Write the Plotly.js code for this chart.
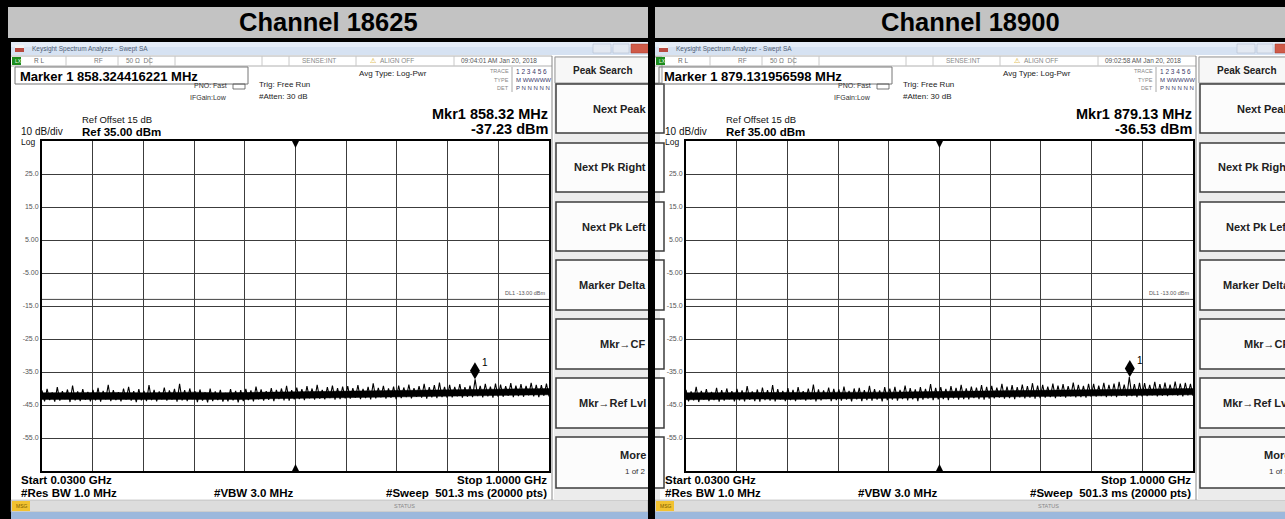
<!DOCTYPE html>
<html>
<head>
<meta charset="utf-8">
<script src="https://cdn.plot.ly/plotly-3.0.1.min.js"></script>
<style>html,body{margin:0;padding:0;background:#000;}#chart{width:1285px;height:519px;}</style>
</head>
<body>
<div id="chart"></div>
<script>
// ---------------- data ----------------
const channels = ["Channel 18625", "Channel 18900"];
const startMHz = 30;      // Start 0.0300 GHz
const stopMHz = 1000;     // Stop 1.0000 GHz
const refLevel = 35;      // Ref 35.00 dBm
const dbPerDiv = 10;
const displayLine = -13;  // DL1 -13.00 dBm
const yTickVals = [25, 15, 5, -5, -15, -25, -35, -45, -55];
const yTickText = ["25.0", "15.0", "5.00", "-5.00", "-15.0", "-25.0", "-35.0", "-45.0", "-55.0"];
const markerFreqs = [858.324416221, 879.131956598];
const markerLevels = [-37.23, -36.53];
const markerFreqText = ["858.324416221", "879.131956598"];
const mkrShort = ["858.32", "879.13"];
const timeStamps = ["09:04:01 AM Jan 20, 2018", "09:02:58 AM Jan 20, 2018"];
const softkeys = ["Next Peak", "Next Pk Right", "Next Pk Left", "Marker Delta", "Mkr\u2192CF", "Mkr\u2192Ref Lvl"];

// trace levels (dBm), swept from start to stop
const trace18625 = [
 -40.6,-43.9,-40.1,-43.5,-41.2,-44.0,-39.6,-43.7,-40.8,-43.2,-40.3,-44.1,-39.1,-43.6,-40.9,-43.8,-40.2,-43.4,-41.0,-43.9,
 -40.4,-43.6,-39.8,-44.0,-40.7,-43.3,-38.9,-43.8,-40.5,-43.5,-41.1,-43.9,-40.0,-43.4,-39.5,-43.7,-40.8,-44.1,-40.2,-43.6,
 -40.7,-43.8,-39.0,-43.5,-40.4,-43.9,-40.9,-43.3,-39.7,-43.7,-40.6,-43.4,-40.1,-44.0,-38.6,-43.6,-40.5,-43.8,-40.0,-43.2,
 -40.8,-44.1,-40.3,-43.7,-41.2,-44.2,-40.0,-43.8,-40.9,-43.5,-40.4,-44.0,-41.3,-43.9,-40.2,-43.6,-40.7,-44.2,-40.5,-43.8,
 -40.1,-43.5,-40.6,-43.9,-39.4,-43.3,-40.3,-43.7,-40.8,-43.4,-39.9,-43.8,-40.4,-43.2,-40.0,-43.6,-39.2,-43.7,-40.5,-43.3,
 -39.7,-43.2,-40.2,-43.5,-39.3,-43.0,-40.0,-43.4,-38.9,-43.1,-40.4,-43.3,-39.6,-42.9,-39.1,-43.4,-39.9,-43.2,-39.4,-43.0,
 -39.3,-43.1,-39.9,-42.8,-39.0,-43.2,-40.1,-42.9,-39.5,-43.3,-38.4,-43.0,-39.8,-42.7,-39.2,-43.1,-40.0,-42.8,-39.4,-43.2,
 -39.1,-42.9,-39.7,-42.6,-38.8,-43.0,-39.9,-42.5,-39.3,-42.8,-38.6,-43.1,-39.6,-42.7,-39.0,-42.9,-38.2,-42.6,-39.5,-42.8,
 -38.9,-42.7,-39.5,-42.4,-38.7,-42.8,-39.6,-42.5,-39.1,-42.6,-37.23,-42.3,-39.2,-42.7,-38.6,-42.4,-39.4,-42.8,-38.5,-42.5,
 -38.8,-42.5,-39.3,-42.2,-38.4,-42.6,-39.1,-42.3,-38.7,-42.5,-39.2,-42.1,-38.3,-42.4,-38.9,-42.6,-39.0,-42.2,-38.5,-42.4
];
const trace18900 = [
 -40.4,-43.9,-40.9,-43.6,-39.5,-44.1,-40.7,-43.4,-40.2,-43.8,-41.0,-43.5,-39.8,-44.0,-40.5,-43.7,-40.0,-43.3,-40.8,-43.9,
 -40.1,-43.6,-40.6,-43.9,-39.3,-43.4,-40.9,-43.8,-40.3,-44.0,-39.7,-43.5,-40.5,-43.7,-39.0,-43.9,-40.2,-43.4,-40.7,-43.8,
 -39.9,-43.5,-40.4,-43.8,-39.6,-43.3,-40.8,-43.7,-40.0,-43.4,-38.8,-43.9,-40.3,-43.6,-40.6,-43.2,-39.7,-43.8,-40.1,-43.5,
 -40.3,-43.7,-39.4,-43.4,-40.7,-43.9,-40.0,-43.3,-39.8,-43.8,-40.5,-43.5,-39.2,-43.7,-40.2,-43.4,-40.6,-43.9,-39.6,-43.5,
 -40.0,-43.4,-39.5,-43.7,-40.4,-43.2,-39.1,-43.6,-39.9,-43.3,-40.3,-43.8,-39.6,-43.4,-40.1,-43.1,-38.7,-43.5,-39.8,-43.3,
 -39.6,-43.2,-40.1,-43.5,-39.3,-43.0,-39.8,-43.4,-38.9,-43.2,-40.0,-43.3,-39.4,-42.9,-39.7,-43.2,-39.0,-43.4,-39.5,-43.1,
 -39.2,-43.0,-39.7,-42.8,-38.6,-43.1,-39.4,-42.9,-39.0,-43.2,-39.6,-42.7,-38.8,-43.0,-39.3,-42.8,-38.4,-43.1,-39.1,-42.9,
 -38.9,-42.8,-39.4,-42.6,-38.5,-42.9,-39.1,-42.5,-38.7,-42.8,-39.3,-42.4,-38.2,-42.7,-38.9,-42.6,-39.2,-42.8,-38.6,-42.5,
 -38.6,-42.5,-39.1,-42.3,-38.3,-42.6,-38.9,-42.4,-38.5,-42.6,-38.0,-42.2,-38.8,-42.5,-36.53,-42.3,-38.7,-42.6,-38.3,-42.4,
 -38.4,-42.3,-38.9,-42.1,-38.0,-42.4,-38.7,-42.2,-38.2,-42.3,-38.8,-42.0,-37.9,-42.2,-38.5,-42.4,-38.3,-42.1,-38.6,-42.2
];
// dense (solid) core of the noise band, read every half division (dBm)
const coreHigh18625 = [-41.3,-41.2,-41.3,-41.2,-41.3,-41.2,-41.1,-41.3,-41.2,-41.0,-41.0,-40.8,-40.7,-40.6,-40.5,-40.4,-40.3,-40.3,-40.2,-40.1,-40.0];
const coreLow18625  = [-43.3,-43.3,-43.2,-43.3,-43.2,-43.3,-43.3,-43.4,-43.3,-43.1,-43.0,-42.9,-42.7,-42.6,-42.5,-42.3,-42.2,-42.1,-42.0,-42.0,-41.9];
const coreHigh18900 = [-41.3,-41.3,-41.2,-41.3,-41.2,-41.2,-41.1,-41.2,-41.1,-41.0,-40.9,-40.8,-40.7,-40.6,-40.5,-40.4,-40.3,-40.2,-40.1,-40.0,-40.0];
const coreLow18900  = [-43.4,-43.3,-43.3,-43.2,-43.3,-43.2,-43.2,-43.1,-43.1,-43.0,-42.9,-42.8,-42.7,-42.6,-42.4,-42.3,-42.2,-42.1,-42.0,-41.9,-41.9];
const traces = [trace18625, trace18900];
const coreHighs = [coreHigh18625, coreHigh18900];
const coreLows = [coreLow18625, coreLow18900];

// ---------------- layout helpers ----------------
const W = 1285, H = 519;
const FONT = "Liberation Sans, Arial, sans-serif";
const X = p => p / W;
const Y = p => 1 - p / H;
const shapes = [];
const annotations = [];

function rect(x0, y0, x1, y1, fill, line, lw, layer) {
  shapes.push({type: "rect", xref: "paper", yref: "paper", x0: X(x0), x1: X(x1), y0: Y(y1), y1: Y(y0),
    fillcolor: fill, line: {color: line || fill, width: lw === undefined ? 0 : lw}, layer: layer || "above"});
}
function hline(x0, x1, y, color, w) {
  shapes.push({type: "line", xref: "paper", yref: "paper", x0: X(x0), x1: X(x1), y0: Y(y), y1: Y(y),
    line: {color: color, width: w || 1}, layer: "above"});
}
function vline(x, y0, y1, color, w) {
  shapes.push({type: "line", xref: "paper", yref: "paper", x0: X(x), x1: X(x), y0: Y(y0), y1: Y(y1),
    line: {color: color, width: w || 1}, layer: "above"});
}
function txt(text, x, y, size, opt) {
  opt = opt || {};
  annotations.push({text: opt.bold ? "<b>" + text + "</b>" : text, xref: "paper", yref: "paper",
    x: X(x), y: Y(y), xanchor: opt.anchor || "left", yanchor: "middle", showarrow: false,
    font: {family: FONT, size: size, color: opt.color || "#000"}});
}

const panelOffsets = [0, 644];
const panelRight = [648, 1300];

panelOffsets.forEach((dx, i) => {
  const L = 11 + dx, R = panelRight[i];
  // header
  rect(8 + dx - (i ? 2 : 0), 7, i ? 1290 : 648, 38, "#c3c3c3");
  txt(channels[i], (i ? 970 : 328), 22.5, 25.5, {bold: true, anchor: "center"});
  // screenshot background
  rect(L, 42, R, 519, "#ffffff", null, 0, "below");
  // window title bar
  rect(L, 42, R, 55, "#d6e2f2");
  rect(L, 42, R, 47, "#e4ecf7");
  rect(15 + dx, 45, 24 + dx, 52, "#b84a40");
  rect(15 + dx, 45, 24 + dx, 48, "#f3f3f3");
  txt("Keysight Spectrum Analyzer - Swept SA", 30 + dx, 49, 6.5, {color: "#4e5c72"});
  rect(593 + dx, 44, 611 + dx, 53, "#e3e9f2", "#a9b6c9", 0.5);
  rect(613 + dx, 44, 629 + dx, 53, "#e3e9f2", "#a9b6c9", 0.5);
  rect(631 + dx, 44, 652 + dx, 53, "#cf5a48", "#a03a2a", 0.5);
  // status row
  hline(L, 552 + dx, 56, "#b0b0b0", 1);
  hline(L, 552 + dx, 66, "#b0b0b0", 1);
  rect(12 + dx, 57, 21 + dx, 65, "#1c8c1c");
  txt("LXI", 13 + dx, 61, 5, {color: "#e8ffe8"});
  txt("R L", 32 + dx, 61, 6.5, {color: "#666"});
  txt("RF", 92 + dx, 61, 6.5, {color: "#777"});
  txt("50 \u03a9  DC", 124 + dx, 61, 6.5, {color: "#777"});
  txt("SENSE:INT", 300 + dx, 61, 6.5, {color: "#888"});
  txt("\u26a0", 368 + dx, 61, 7, {color: "#d4a000"});
  txt("ALIGN OFF", 378 + dx, 61, 6.5, {color: "#888"});
  txt(timeStamps[i], 459 + dx, 61, 6.5, {color: "#555"});
  [66, 118, 150, 175, 262, 289, 356, 454].forEach(v => vline(v + dx, 56, 66, "#c8c8c8", 1));
  vline(552 + dx, 56, 500, "#888", 1);
  // marker readout box
  rect(15 + dx, 67, 248 + dx, 84, "rgba(0,0,0,0)", "#777", 1);
  txt("Marker 1 " + markerFreqText[i] + " MHz", 18 + dx, 76, 13, {bold: true});
  txt("PNO: Fast", 229 + dx, 86, 7, {anchor: "right", color: "#333"});
  txt("IFGain:Low", 229 + dx, 97, 7, {anchor: "right", color: "#333"});
  rect(233 + dx, 84, 245 + dx, 89, "rgba(0,0,0,0)", "#555", 0.8);
  txt("Trig: Free Run", 257 + dx, 85, 8, {color: "#222"});
  txt("#Atten: 30 dB", 257 + dx, 96, 8, {color: "#222"});
  txt("Avg Type: Log-Pwr", 357 + dx, 74, 8, {color: "#222"});
  txt("TRACE", 511 + dx, 71, 5.5, {anchor: "right", color: "#888"});
  txt("TYPE", 511 + dx, 80, 5.5, {anchor: "right", color: "#888"});
  txt("DET", 511 + dx, 88, 5.5, {anchor: "right", color: "#888"});
  txt("1 2 3 4 5 6", 514 + dx, 72, 6.5, {color: "#3a3a6a"});
  txt("M WWWWW", 514 + dx, 80, 6, {color: "#3a3a6a"});
  txt("P N N N N N", 514 + dx, 88, 6, {color: "#3a3a6a"});
  vline(512 + dx, 67, 92, "#aaa", 1);
  // reference info
  txt("Mkr1 " + mkrShort[i] + " MHz", 550 + dx, 114, 14.5, {bold: true, anchor: "right"});
  txt(markerLevels[i].toFixed(2) + " dBm", 550 + dx, 129, 14.5, {bold: true, anchor: "right"});
  txt("Ref Offset 15 dB", 80 + dx, 119.5, 9.5, {color: "#111"});
  txt("10 dB/div", 19 + dx, 131, 10, {color: "#111"});
  txt("Ref " + refLevel.toFixed(2) + " dBm", 80 + dx, 132, 11.5, {bold: true});
  txt("Log", 19 + dx, 142, 8.5, {color: "#111"});
  // bottom readouts
  txt("Start " + (startMHz / 1000).toFixed(4) + " GHz", 19 + dx, 480, 11.5, {bold: true});
  txt("Stop " + (stopMHz / 1000).toFixed(4) + " GHz", 549 + dx, 480, 11.5, {bold: true, anchor: "right"});
  txt("#Res BW 1.0 MHz", 19 + dx, 493, 11.5, {bold: true});
  txt("#VBW 3.0 MHz", 212 + dx, 493, 11.5, {bold: true});
  txt("#Sweep&nbsp;&nbsp;501.3 ms (20000 pts)", 549 + dx, 493, 11.5, {bold: true, anchor: "right"});
  // status bar and window frame bottom
  rect(L, 500, R, 512, "#dcdcdc", "#a0a0a0", 0.5);
  rect(12 + dx, 501, 30 + dx, 511, "#f2c230");
  txt("MSG", 14 + dx, 506, 5, {color: "#7a5a00"});
  txt("STATUS", 404 + dx, 506, 5.5, {color: "#888", anchor: "center"});
  rect(L, 512, R, 519, "#9cb8dc");
  // softkey column
  rect(554 + dx, 56, 660 + dx, 500, "#ececec");
  rect(555 + dx, 57, 662 + dx, 83, "#f7f7f7", "#999", 1);
  txt("Peak Search", 603 + dx, 70, 10, {bold: true, anchor: "center", color: "#222"});
  const keyTops = [84, 143, 202, 260, 319, 378, 437];
  const keyBots = [133, 192, 251, 310, 369, 428, 488];
  keyTops.forEach((t, k) => rect(556 + dx, t, 664 + dx, keyBots[k], "#fcfcfc", "#3c3c3c", 1.5));
  softkeys.forEach((s, k) => txt(s, 648 + dx, (keyTops[k] + keyBots[k]) / 2, 11, {bold: true, anchor: "right", color: "#222"}));
  txt("More", 648 + dx, 455, 11, {bold: true, anchor: "right", color: "#222"});
  txt("1 of 2", 648 + dx, 471, 8, {anchor: "right", color: "#333"});
});
// black gap between the two panels (drawn last)
rect(648, 0, 655, 519, "#000000");

// ---------------- traces ----------------
const data = [];
const layout = {
  width: W, height: H, margin: {l: 0, r: 0, t: 0, b: 0},
  paper_bgcolor: "#000000", plot_bgcolor: "#ffffff", showlegend: false,
  font: {family: FONT}, shapes: shapes, annotations: annotations
};
const plotLeft = [42, 686];
const sweep = (n) => Array.from({length: n}, (_, k) => startMHz + (stopMHz - startMHz) * k / (n - 1));
traces.forEach((vals, i) => {
  const xa = i === 0 ? "x" : "x2", ya = i === 0 ? "y" : "y2";
  const coreX = sweep(coreLows[i].length);
  data.push({type: "scatter", mode: "lines", x: coreX, y: coreLows[i], xaxis: xa, yaxis: ya,
    line: {color: "#000", width: 0.5}, hoverinfo: "skip"});
  data.push({type: "scatter", mode: "lines", x: coreX, y: coreHighs[i], xaxis: xa, yaxis: ya,
    line: {color: "#000", width: 0.5}, fill: "tonexty", fillcolor: "#000", hoverinfo: "skip"});
  data.push({type: "scatter", mode: "lines", x: sweep(vals.length), y: vals, xaxis: xa, yaxis: ya,
    line: {color: "#000000", width: 1.1}, hoverinfo: "skip"});
  const axSuffix = i === 0 ? "" : "2";
  layout["xaxis" + axSuffix] = {
    domain: [X(plotLeft[i]), X(plotLeft[i] + 507)], range: [startMHz, stopMHz],
    tick0: startMHz, dtick: (stopMHz - startMHz) / 10, showgrid: true, gridcolor: "#3c3c3c", gridwidth: 1,
    showticklabels: false, ticks: "", zeroline: false, showline: true, mirror: true,
    linecolor: "#000", linewidth: 2, anchor: ya, fixedrange: true
  };
  layout["yaxis" + axSuffix] = {
    domain: [Y(471), Y(141)], range: [refLevel - 10 * dbPerDiv, refLevel],
    tickvals: yTickVals, ticktext: yTickText, tickfont: {family: FONT, size: 7, color: "#555"},
    showgrid: true, gridcolor: "#3c3c3c", gridwidth: 1, ticks: "", zeroline: false,
    showline: true, mirror: true, linecolor: "#000", linewidth: 2, anchor: xa, fixedrange: true
  };
  // display line DL1
  shapes.push({type: "line", xref: xa, yref: ya, x0: startMHz, x1: stopMHz, y0: displayLine, y1: displayLine,
    line: {color: "#444", width: 1}, layer: "above"});
  annotations.push({text: "DL1 " + displayLine.toFixed(2) + " dBm", xref: xa, yref: ya, x: stopMHz, y: displayLine,
    xanchor: "right", yanchor: "bottom", xshift: -2, yshift: 1, showarrow: false,
    font: {family: FONT, size: 5.5, color: "#555"}});
  // center-frequency triangles
  const cf = (startMHz + stopMHz) / 2;
  shapes.push({type: "path", xref: xa, yref: ya, xsizemode: "pixel", ysizemode: "pixel", xanchor: cf, yanchor: refLevel,
    path: "M-3.5,0 L3.5,0 L0,-7 Z", fillcolor: "#000", line: {width: 0}, layer: "above"});
  shapes.push({type: "path", xref: xa, yref: ya, xsizemode: "pixel", ysizemode: "pixel", xanchor: cf, yanchor: refLevel - 10 * dbPerDiv,
    path: "M-3.5,0 L3.5,0 L0,7 Z", fillcolor: "#000", line: {width: 0}, layer: "above"});
  // marker diamond
  shapes.push({type: "path", xref: xa, yref: ya, xsizemode: "pixel", ysizemode: "pixel",
    xanchor: markerFreqs[i], yanchor: markerLevels[i],
    path: "M0,0 L-5,8.5 L0,17 L5,8.5 Z", fillcolor: "#000", line: {width: 0}, layer: "above"});
  annotations.push({text: "1", xref: xa, yref: ya, x: markerFreqs[i], y: markerLevels[i],
    xanchor: "left", yanchor: "middle", xshift: 5, yshift: 17, showarrow: false,
    font: {family: FONT, size: 10, color: "#000"}});
});

Plotly.newPlot("chart", data, layout, {staticPlot: true, displayModeBar: false});
</script>
</body>
</html>
